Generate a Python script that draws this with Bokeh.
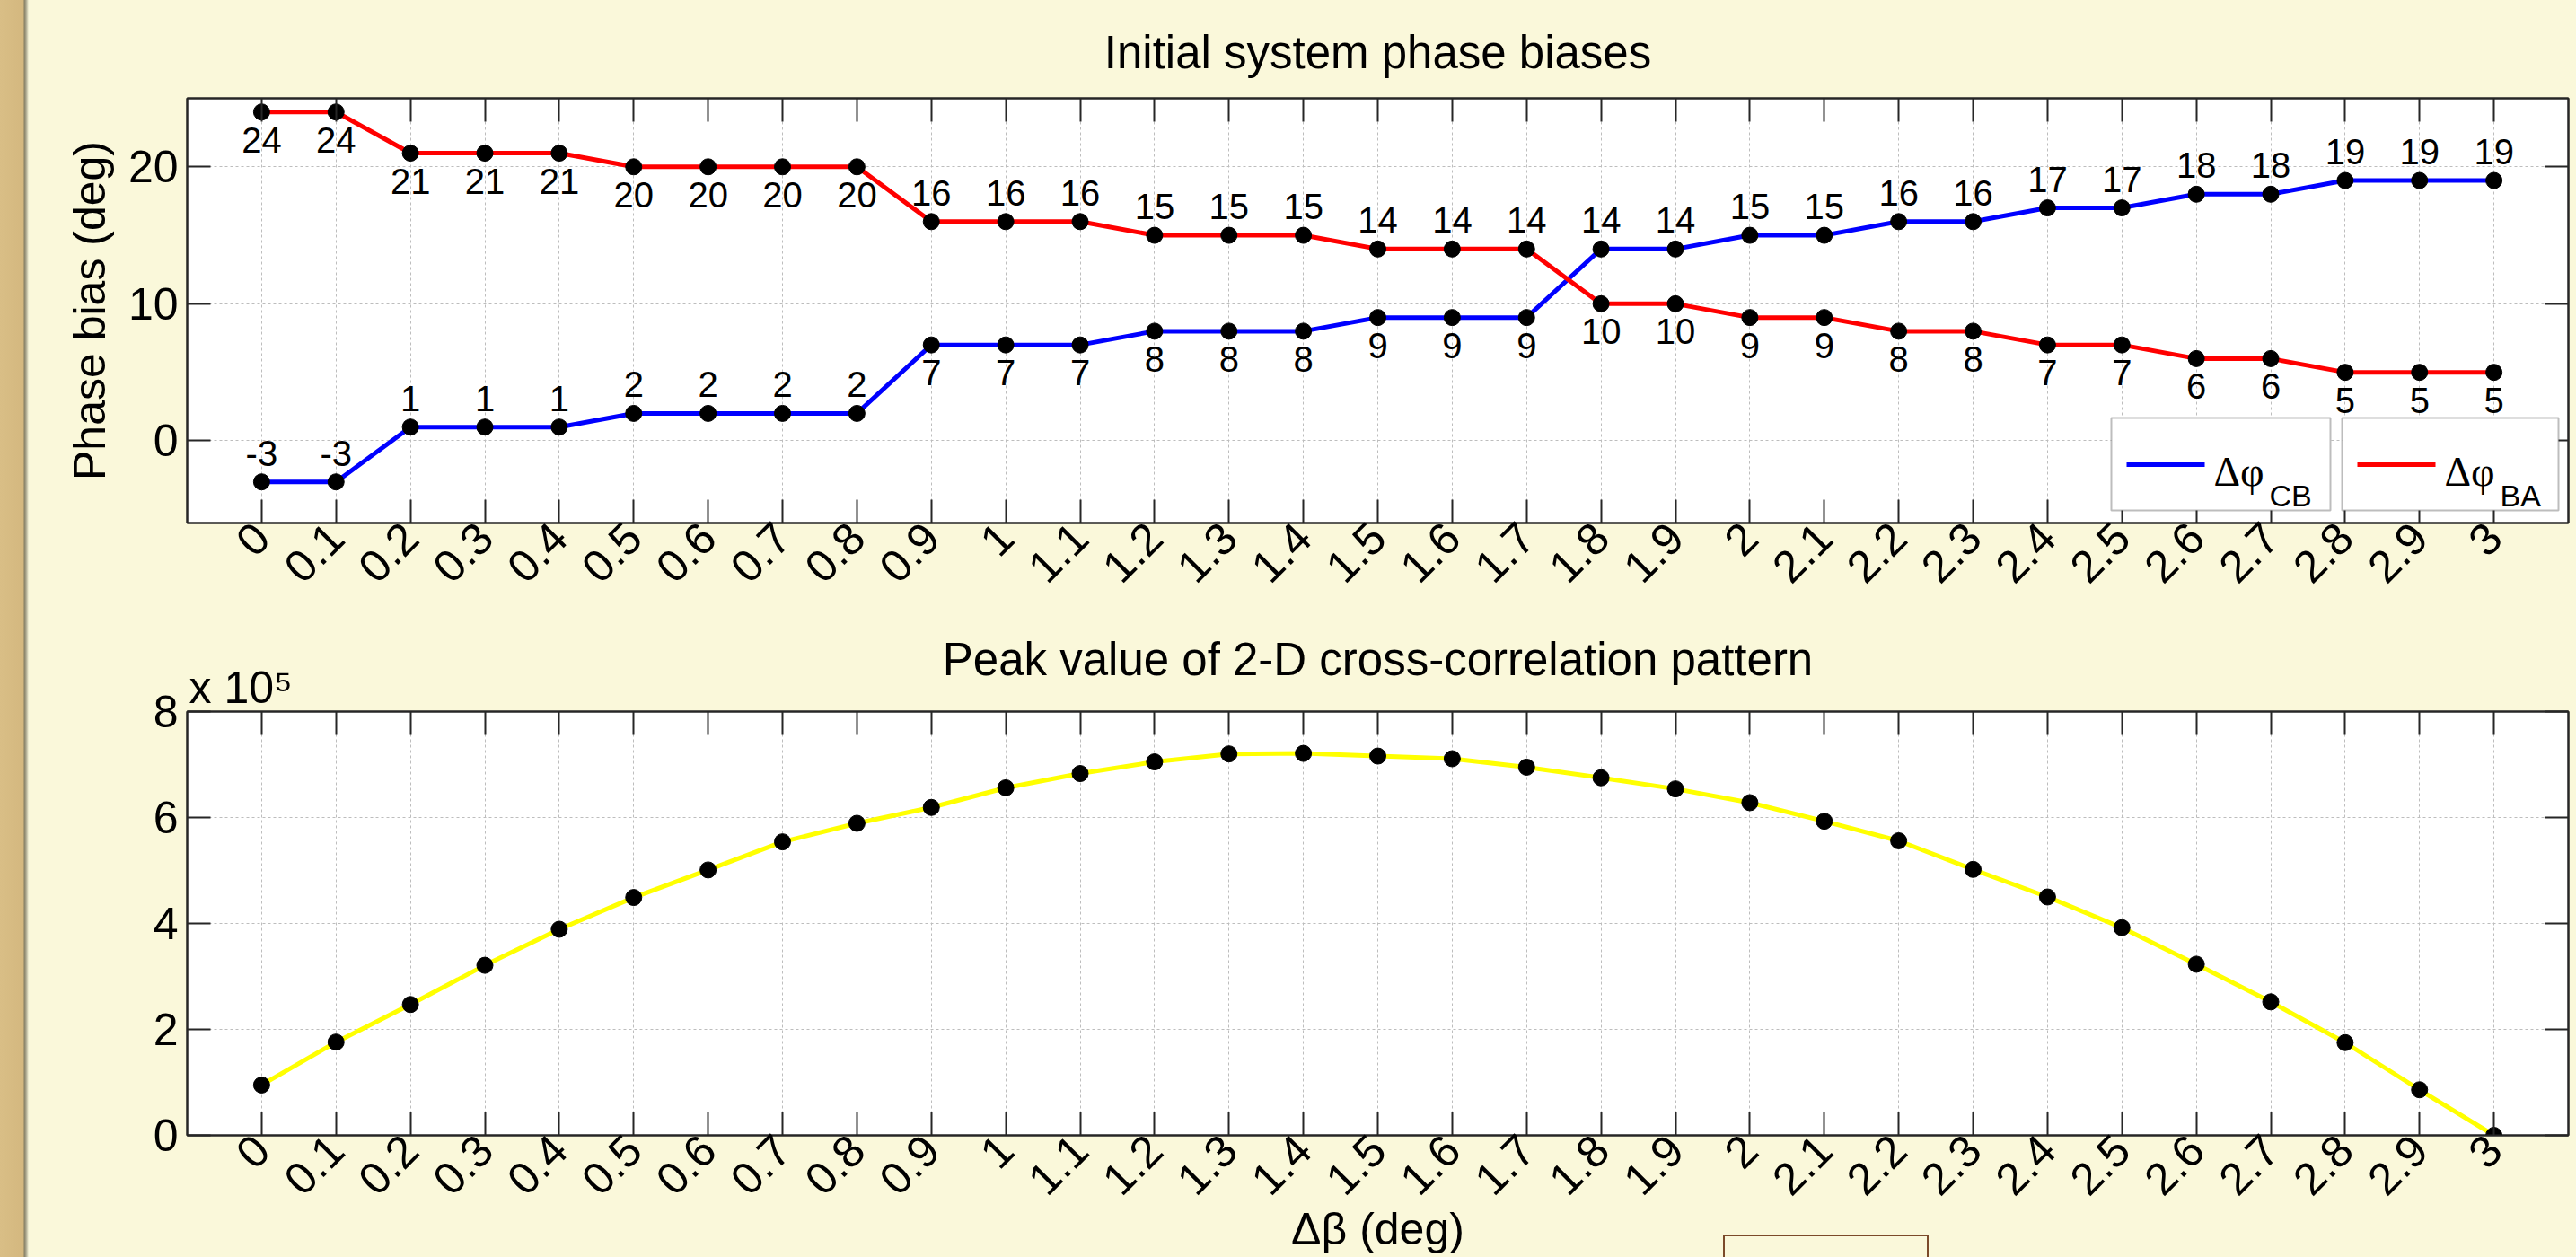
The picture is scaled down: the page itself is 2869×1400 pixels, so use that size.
import numpy as np
from bokeh.plotting import figure
from bokeh.models import (ColumnDataSource, FixedTicker, LinearAxis, BoxAnnotation, Label,
                          Title, CustomLabelingPolicy)
from bokeh.layouts import column
from bokeh.embed import file_html
from bokeh.resources import INLINE
from bokeh.core.properties import value

# ---------------- data ----------------
delta_beta = [0.0, 0.1, 0.2, 0.3, 0.4, 0.5, 0.6, 0.7, 0.8, 0.9, 1.0,
              1.1, 1.2, 1.3, 1.4, 1.5, 1.6, 1.7, 1.8, 1.9, 2.0,
              2.1, 2.2, 2.3, 2.4, 2.5, 2.6, 2.7, 2.8, 2.9, 3.0]
x_tick_labels = ["0", "0.1", "0.2", "0.3", "0.4", "0.5", "0.6", "0.7", "0.8", "0.9", "1",
                 "1.1", "1.2", "1.3", "1.4", "1.5", "1.6", "1.7", "1.8", "1.9", "2",
                 "2.1", "2.2", "2.3", "2.4", "2.5", "2.6", "2.7", "2.8", "2.9", "3"]
phi_cb = [-3, -3, 1, 1, 1, 2, 2, 2, 2, 7, 7, 7, 8, 8, 8, 9, 9, 9,
          14, 14, 15, 15, 16, 16, 17, 17, 18, 18, 19, 19, 19]
phi_ba = [24, 24, 21, 21, 21, 20, 20, 20, 20, 16, 16, 16, 15, 15, 15, 14, 14, 14,
          10, 10, 9, 9, 8, 8, 7, 7, 6, 6, 5, 5, 5]
peak_values = [95000, 176000, 247000, 321000, 389000, 449000, 501000, 554000, 589000, 619000,
               656000, 683000, 705000, 720000, 721000, 716000, 711000, 695000, 675000, 654000,
               628000, 593000, 556000, 502000, 450000, 392000, 323000, 252000, 175000, 86000, 0]
y1_ticks = [0, 10, 20]
y2_ticks = [0, 200000, 400000, 600000, 800000]
y2_tick_labels = ["0", "2", "4", "6", "8"]

FONT = "Liberation Sans"
SERIF = "Liberation Serif"
PAPER = "#FAF8DA"
FRAME = "#262626"
W = 2869

NO_LABELS = CustomLabelingPolicy(code="""
for (const i of Array.from(indices)) { indices.unset(i) }
return indices
""")


def tick_only_axis(ticks):
    return LinearAxis(ticker=FixedTicker(ticks=ticks), major_tick_in=26, major_tick_out=0,
                      major_label_policy=NO_LABELS, major_label_text_font_size="1px",
                      major_label_standoff=0,
                      axis_line_color=FRAME, axis_line_width=2,
                      major_tick_line_color=FRAME, major_tick_line_width=2,
                      minor_tick_line_color=None)


def style_axes(p, xt, yt, ylabels=None):
    xa, ya = p.below[0], p.left[0]
    xa.ticker = FixedTicker(ticks=xt)
    xa.major_label_overrides = {t: l for t, l in zip(xt, x_tick_labels)}
    ya.ticker = FixedTicker(ticks=yt)
    if ylabels:
        ya.major_label_overrides = {t: l for t, l in zip(yt, ylabels)}
    p.xgrid.ticker = FixedTicker(ticks=xt)
    p.ygrid.ticker = FixedTicker(ticks=yt)
    for g in (p.xgrid, p.ygrid):
        g.grid_line_color = "#BDBDBD"
        g.grid_line_dash = "3 3"
        g.grid_line_width = 1
    for ax in (xa, ya):
        ax.major_tick_in = 26
        ax.major_tick_out = 0
        ax.minor_tick_line_color = None
        ax.axis_line_color = FRAME
        ax.axis_line_width = 2
        ax.major_tick_line_color = FRAME
        ax.major_tick_line_width = 2
        ax.major_label_text_font = FONT
        ax.major_label_text_font_size = "50px"
        ax.major_label_text_color = "black"
    xa.major_label_orientation = np.pi / 4
    xa.major_label_standoff = 8
    ya.major_label_standoff = 10
    p.add_layout(tick_only_axis(xt), "above")
    p.add_layout(tick_only_axis(yt), "right")
    p.outline_line_color = FRAME
    p.outline_line_width = 2
    p.background_fill_color = "white"
    p.border_fill_color = PAPER
    p.border_fill_alpha = 0.0
    p.title.text_font = FONT
    p.title.text_font_size = "51px"
    p.title.text_font_style = "normal"
    p.title.align = "center"
    p.title.text_color = "black"


# ---------------- top panel ----------------
n = len(delta_beta)
p1 = figure(width=W, height=700, x_range=(-0.1, 3.1), y_range=(-6, 25),
            output_backend="svg", toolbar_location=None,
            title="Initial system phase biases",
            min_border_left=208, min_border_right=9, min_border_top=109, min_border_bottom=118)
style_axes(p1, delta_beta, y1_ticks)
p1.title.standoff = 37
ya1 = p1.left[0]
ya1.axis_label = "Phase bias (deg)"
ya1.axis_label_text_font = FONT
ya1.axis_label_text_font_size = "50px"
ya1.axis_label_text_font_style = "normal"
ya1.axis_label_text_color = "black"
ya1.axis_label_standoff = 12

src1 = ColumnDataSource(dict(x=delta_beta, cb=phi_cb, ba=phi_ba))
p1.line("x", "cb", source=src1, line_color="#0000FF", line_width=5)
p1.line("x", "ba", source=src1, line_color="#FF0000", line_width=5)
p1.scatter("x", "cb", source=src1, size=18, fill_color="black", line_color="black")
p1.scatter("x", "ba", source=src1, size=18, fill_color="black", line_color="black")

cb_up = [(i < 9 or i >= 18) for i in range(n)]
above = dict(x=[], y=[], t=[])
below = dict(x=[], y=[], t=[])
for i in range(n):
    a, b = (above, below) if cb_up[i] else (below, above)
    a["x"].append(delta_beta[i]); a["y"].append(phi_cb[i]); a["t"].append(str(phi_cb[i]))
    b["x"].append(delta_beta[i]); b["y"].append(phi_ba[i]); b["t"].append(str(phi_ba[i]))
p1.text("x", "y", text="t", source=ColumnDataSource(above), text_font=value(FONT),
        text_font_size="40px", text_align="center", text_baseline="alphabetic",
        y_offset=-32, text_color="black")
p1.text("x", "y", text="t", source=ColumnDataSource(below), text_font=value(FONT),
        text_font_size="40px", text_align="center", text_baseline="alphabetic",
        y_offset=31, text_color="black")


def legend_box(p, l, r, color, name):
    p.add_layout(BoxAnnotation(left=l, right=r, bottom=14, top=117,
                               left_units="screen", right_units="screen",
                               bottom_units="screen", top_units="screen",
                               fill_color="white", fill_alpha=1.0,
                               line_color=FRAME, line_width=2))
    p.add_layout(BoxAnnotation(left=l + 17, right=l + 104, bottom=62.5, top=67.5,
                               left_units="screen", right_units="screen",
                               bottom_units="screen", top_units="screen",
                               fill_color=color, fill_alpha=1.0, line_color=None))
    p.add_layout(Label(x=l + 114, y=57, x_units="screen", y_units="screen", text="Δφ",
                       text_font=SERIF, text_font_size="46px", text_baseline="alphabetic",
                       text_color="black"))
    p.add_layout(Label(x=l + 176, y=31, x_units="screen", y_units="screen", text=name,
                       text_font=FONT, text_font_size="34px", text_baseline="alphabetic",
                       text_color="black"))


legend_box(p1, 2143, 2387, "#0000FF", "CB")
legend_box(p1, 2400, 2641, "#FF0000", "BA")

# ---------------- bottom panel ----------------
p2 = figure(width=W, height=700, x_range=(-0.1, 3.1), y_range=(0, 800000),
            output_backend="svg", toolbar_location=None,
            title="Peak value of 2-D cross-correlation pattern",
            min_border_left=208, min_border_right=9, min_border_top=92, min_border_bottom=136)
style_axes(p2, delta_beta, y2_ticks, y2_tick_labels)
p2.add_layout(Title(text="x 10⁵", align="left", offset=2, standoff=-11,
                    text_font=FONT, text_font_size="50px", text_font_style="normal",
                    text_color="black"), "above")
p2.title.standoff = -43
xa2 = p2.below[0]
xa2.axis_label = "Δβ (deg)"
xa2.axis_label_text_font = FONT
xa2.axis_label_text_font_size = "50px"
xa2.axis_label_text_font_style = "normal"
xa2.axis_label_text_color = "black"
xa2.axis_label_standoff = -8

src2 = ColumnDataSource(dict(x=delta_beta, v=peak_values))
p2.line("x", "v", source=src2, line_color="#FFFF00", line_width=5)
p2.scatter("x", "v", source=src2, size=18, fill_color="black", line_color="black")

BROWN = "linear-gradient(#7B4A2A, #7B4A2A)"
bg = ", ".join([
    f"{BROWN} 1919px 1375px / 229px 2px no-repeat",
    f"{BROWN} 1919px 1375px / 2px 30px no-repeat",
    f"{BROWN} 2146px 1375px / 2px 30px no-repeat",
    "linear-gradient(to right, #D9BE86 0px, #D4B87F 26px, #857E62 27px, #A9A58C 29px, "
    f"{PAPER} 32px, {PAPER} 100%) 0 0 / 100% 100% no-repeat",
])
layout = column(p1, p2, spacing=0, styles={"background": bg, "background-color": PAPER})
open("out.html", "w").write(file_html(layout, INLINE))
